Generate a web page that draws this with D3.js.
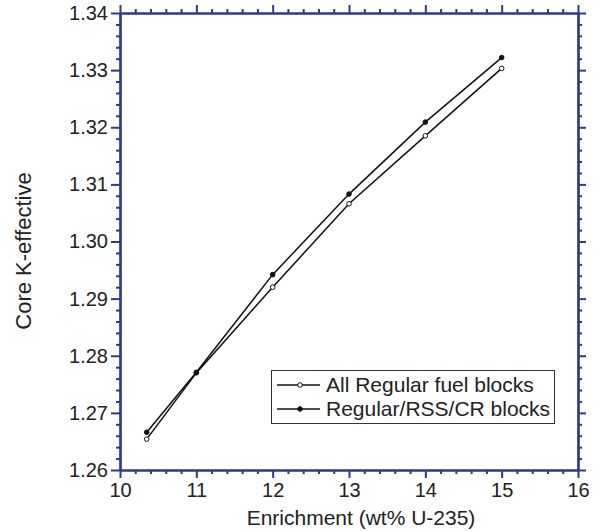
<!DOCTYPE html>
<html><head><meta charset="utf-8">
<script src="https://cdn.jsdelivr.net/npm/d3@7"></script>
<style>body{margin:0;background:#fff}svg{display:block}text{font-family:"Liberation Sans",Arial,sans-serif;fill:#222}</style>
</head><body><svg id="c" width="601" height="531"></svg>
<script>
const enrichment = [10.35, 11, 12, 13, 14, 15];
const allRegular = [1.2654, 1.2770, 1.2920, 1.3066, 1.3185, 1.3303];
const regularRssCr = [1.2666, 1.2771, 1.2942, 1.3083, 1.3209, 1.3322];
const seriesNames = ["All Regular fuel blocks", "Regular/RSS/CR blocks"];
const xTicks = [10, 11, 12, 13, 14, 15, 16];
const yTicks = [1.26, 1.27, 1.28, 1.29, 1.30, 1.31, 1.32, 1.33, 1.34];
const xTitle = "Enrichment (wt% U-235)";
const yTitle = "Core K-effective";

const svg = d3.select("#c");
const L = 120, R = 578, T = 13, B = 470;
const x = d3.scaleLinear().domain([10, 16]).range([L, R]);
const y = d3.scaleLinear().domain([1.26, 1.34]).range([B, T]);
const axisColor = "#2d3a8c";
const fs = 20;

const xMinor = d3.range(10, 16.001, 0.2).filter(v => Math.abs(v - Math.round(v)) > 1e-6);
const yMinor = d3.range(1.26, 1.3401, 0.002).filter(v => Math.abs(v * 100 - Math.round(v * 100)) > 1e-6);

function styleAxis(g) {
  g.selectAll("path.domain").attr("stroke", axisColor).attr("stroke-width", 2.2);
  g.selectAll(".tick line").attr("stroke", axisColor).attr("stroke-width", 2);
  g.selectAll(".tick text").style("font-size", fs + "px").attr("fill", "#222");
}

// minor ticks
svg.append("g").attr("transform", `translate(0,${B})`)
  .call(d3.axisBottom(x).tickValues(xMinor).tickSize(4).tickFormat("").tickSizeOuter(0)).call(styleAxis);
svg.append("g").attr("transform", `translate(0,${T})`)
  .call(d3.axisTop(x).tickValues(xMinor).tickSize(4).tickFormat("").tickSizeOuter(0)).call(styleAxis);
svg.append("g").attr("transform", `translate(${L},0)`)
  .call(d3.axisLeft(y).tickValues(yMinor).tickSize(4).tickFormat("").tickSizeOuter(0)).call(styleAxis);
svg.append("g").attr("transform", `translate(${R},0)`)
  .call(d3.axisRight(y).tickValues(yMinor).tickSize(4).tickFormat("").tickSizeOuter(0)).call(styleAxis);

// major ticks
svg.append("g").attr("transform", `translate(0,${B})`)
  .call(d3.axisBottom(x).tickValues(xTicks).tickSize(8).tickPadding(5).tickFormat(d3.format("d")).tickSizeOuter(0)).call(styleAxis);
svg.append("g").attr("transform", `translate(0,${T})`)
  .call(d3.axisTop(x).tickValues(xTicks).tickSize(8).tickFormat("").tickSizeOuter(0)).call(styleAxis);
svg.append("g").attr("transform", `translate(${L},0)`)
  .call(d3.axisLeft(y).tickValues(yTicks).tickSize(9).tickPadding(3).tickFormat(d3.format(".2f")).tickSizeOuter(0)).call(styleAxis);
svg.append("g").attr("transform", `translate(${R},0)`)
  .call(d3.axisRight(y).tickValues(yTicks).tickSize(8).tickFormat("").tickSizeOuter(0)).call(styleAxis);

// titles
svg.append("text").attr("x", (L + R) / 2 + 12).attr("y", 525).attr("text-anchor", "middle")
  .style("font-size", "21px").text(xTitle);
svg.append("text").attr("transform", `translate(31,251) rotate(-90)`).attr("text-anchor", "middle")
  .style("font-size", "22px").text(yTitle);

// lines
const line = d3.line().x(d => x(d[0])).y(d => y(d[1]));
const series = [
  { name: seriesNames[0], values: allRegular, fill: "#fff" },
  { name: seriesNames[1], values: regularRssCr, fill: "#111" }
];
series.forEach(s => {
  const pts = enrichment.map((e, i) => [e, s.values[i]]);
  svg.append("path").datum(pts).attr("d", line).attr("fill", "none")
    .attr("stroke", "#111").attr("stroke-width", 1.5);
  svg.selectAll(null).data(pts).enter().append("circle")
    .attr("cx", d => x(d[0])).attr("cy", d => y(d[1])).attr("r", 2.3)
    .attr("fill", s.fill).attr("stroke", "#111").attr("stroke-width", 1);
});

// legend
const lg = svg.append("g");
lg.append("rect").attr("x", 271.5).attr("y", 370.5).attr("width", 283).attr("height", 53)
  .attr("fill", "#fff").attr("stroke", "#333").attr("stroke-width", 1);
series.forEach((s, i) => {
  const cy = 385 + i * 24;
  lg.append("line").attr("x1", 277).attr("x2", 320).attr("y1", cy).attr("y2", cy)
    .attr("stroke", "#111").attr("stroke-width", 1.5);
  lg.append("circle").attr("cx", 300).attr("cy", cy).attr("r", 2.3)
    .attr("fill", s.fill).attr("stroke", "#111").attr("stroke-width", 1);
  lg.append("text").attr("x", 326).attr("y", cy).attr("dy", "0.35em")
    .style("font-size", "21px").text(s.name);
});
</script></body></html>
